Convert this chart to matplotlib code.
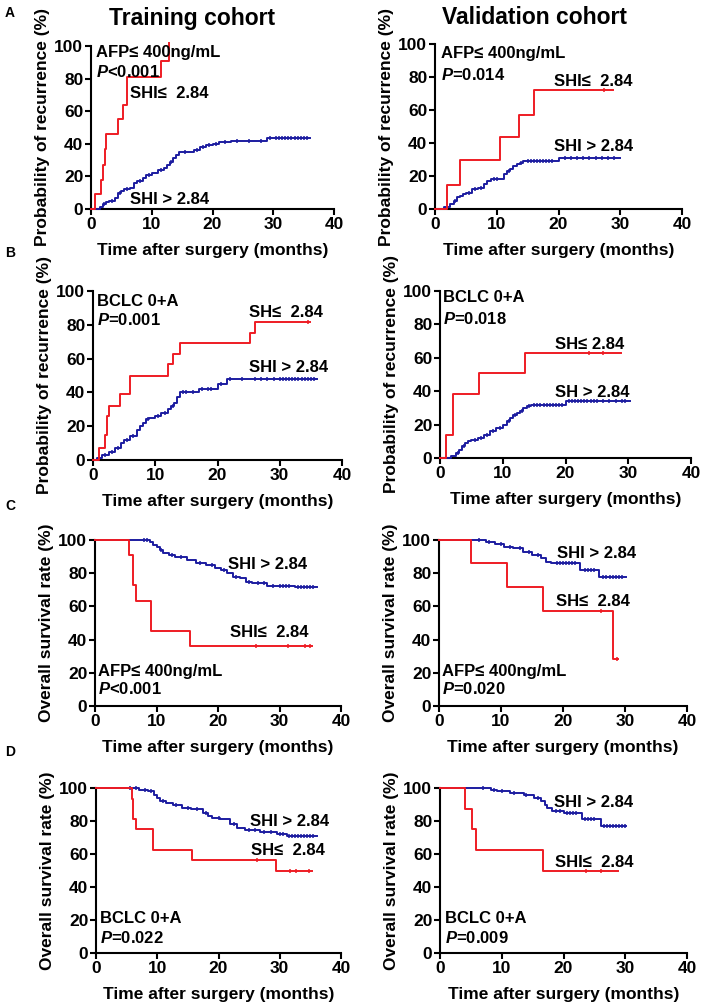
import numpy as np
import matplotlib
matplotlib.use("Agg")
import matplotlib.pyplot as plt

plt.rcParams['font.family'] = ['Liberation Sans', 'DejaVu Sans']
plt.rcParams['font.weight'] = 'bold'
plt.rcParams['mathtext.fontset'] = 'custom'
plt.rcParams['mathtext.it'] = 'Liberation Sans:italic:bold'
plt.rcParams['mathtext.rm'] = 'Liberation Sans:bold'

RED = '#ee1c24'
BLUE = '#1c1ca0'

# ---------------- data (months, %) ----------------
# A: recurrence, AFP<=400, training
a_tr_red_t = [0.7, 1.7, 2.0, 2.25, 2.5, 4.4, 5.3, 6.0, 11.6, 12.9]
a_tr_red_v = [9, 18, 27, 37, 46, 55, 64, 81, 91, 102]
a_tr_red_end = 12.9
a_tr_red_cens = []
a_tr_blue_t = [1.5, 2.0, 2.5, 3.0, 4.0, 4.5, 5.0, 5.5, 6.5, 7.0, 7.5, 8.5, 9.0, 10.0, 11.0, 12.0, 12.5,
               13.0, 13.5, 14.0, 14.5, 17.0, 18.0, 19.0, 20.0, 21.0, 23.0, 29.0]
a_tr_blue_v = [1, 3, 4, 5, 7, 10, 11, 12, 13, 16, 17, 19, 21, 22, 24, 25, 27, 29, 31, 33, 35, 36, 38, 39,
               40, 41, 42, 43.5]
a_tr_blue_end = 36.0
a_tr_blue_cens = [2.2, 3.5, 4.8, 6.0, 8.0, 9.5, 11.5, 13.2, 15.5, 17.5, 18.5, 19.5, 20.5, 22.0, 24.0,
                  26.0, 28.0, 29.5, 30.5, 31.0, 31.5, 32.0, 32.5, 33.0, 33.5, 34.0, 34.5, 35.0, 35.5]

# A: recurrence, AFP<=400, validation
a_va_red_t = [1.9, 4.1, 10.6, 13.6, 16.0]
a_va_red_v = [14.5, 29.5, 43.5, 57, 72]
a_va_red_end = 28.9
a_va_red_cens = [27.4]
a_va_blue_t = [1.5, 2.5, 3.0, 3.5, 4.0, 4.5, 5.0, 6.0, 7.0, 8.0, 8.5, 9.0, 11.2, 11.7, 12.2, 12.7, 13.2,
               13.7, 14.3, 20.0]
a_va_blue_v = [1, 3, 5, 7, 8, 9, 10, 12, 13, 15, 17, 18, 21, 23, 24, 26, 27, 28, 29, 31]
a_va_blue_end = 30.0
a_va_blue_cens = [3.2, 5.5, 6.5, 7.5, 9.5, 10.0, 12.0, 14.0, 15.0, 15.5, 16.0, 16.5, 17.0, 17.5, 18.0,
                  18.5, 19.0, 21.0, 22.0, 23.0, 24.0, 25.0, 26.0, 27.0, 28.0, 29.0]

# B: recurrence, BCLC 0+A, training
b_tr_red_t = [1.0, 1.9, 2.2, 2.5, 4.4, 6.0, 12.1, 12.9, 14.0, 25.2, 26.1]
b_tr_red_v = [7, 15, 26, 32, 39, 50, 57, 63, 69, 75, 81.5]
b_tr_red_end = 34.8
b_tr_red_cens = [34.6]
b_tr_blue_t = [0.7, 1.5, 2.5, 3.5, 4.5, 5.0, 6.0, 7.0, 7.5, 8.0, 8.5, 9.0, 10.0, 11.0, 12.0, 12.5, 13.0,
               13.5, 14.0, 17.0, 20.0, 21.5]
b_tr_blue_v = [1, 3, 5, 7, 10, 12, 14, 18, 20, 22, 24, 25, 26, 28, 30, 32, 34, 37, 40, 42, 45, 48]
b_tr_blue_end = 36.0
b_tr_blue_cens = [2.0, 3.0, 4.0, 5.5, 6.5, 8.8, 10.5, 11.5, 12.8, 14.5, 15.0, 16.0, 17.5, 18.5, 19.0,
                  20.5, 22.0, 24.0, 26.0, 27.0, 28.0, 29.0, 30.0, 30.5, 31.0, 31.5, 32.0, 32.5, 33.0,
                  33.5, 34.0, 34.5, 35.0, 35.5]

# B: recurrence, BCLC 0+A, validation
b_va_red_t = [0.96, 2.0, 6.2, 13.6]
b_va_red_v = [14, 38.5, 51, 63]
b_va_red_end = 28.9
b_va_red_cens = [23.8, 25.9]
b_va_blue_t = [1.8, 2.5, 3.0, 3.5, 4.0, 4.5, 5.0, 6.0, 7.0, 8.0, 9.0, 10.0, 10.7, 11.2, 11.7, 12.2, 12.8,
               13.3, 13.8, 14.5, 20.0]
b_va_blue_v = [1, 3, 5, 7, 9, 10, 11, 12, 14, 16, 18, 20, 22, 24, 26, 27, 28, 30, 31, 32, 34]
b_va_blue_end = 30.2
b_va_blue_cens = [2.8, 3.8, 5.5, 6.5, 7.5, 8.5, 9.5, 11.0, 12.0, 13.0, 14.2, 15.0, 15.5, 16.0, 16.5,
                  17.0, 17.5, 18.0, 18.5, 19.0, 19.5, 20.5, 21.0, 21.5, 22.0, 22.5, 23.0, 23.5, 24.0,
                  24.5, 25.0, 26.0, 27.0, 28.0, 29.0, 29.5]

# C: overall survival, AFP<=400, training
c_tr_red_t = [5.6, 6.1, 6.7, 9.1, 15.4]
c_tr_red_v = [90.8, 72.7, 63.5, 45.3, 36.3]
c_tr_red_end = 35.3
c_tr_red_cens = [26.1, 31.4, 34.1, 35.0]
c_tr_blue_t = [9.0, 9.5, 10.0, 10.5, 11.0, 12.0, 13.0, 15.0, 16.5, 18.0, 19.5, 20.5, 21.5, 22.5, 23.5,
               24.5, 25.5, 28.0, 32.5]
c_tr_blue_v = [98.5, 97, 96, 94, 92, 91, 90, 88, 86, 85, 83, 82, 80, 78, 77, 75, 74, 72.5, 71.5]
c_tr_blue_end = 36.1
c_tr_blue_cens = [7.9, 8.5, 10.7, 12.5, 14.0, 17.0, 19.0, 21.0, 23.0, 25.0, 26.5, 27.5, 29.0, 30.0,
                  30.5, 31.0, 31.5, 33.0, 33.5, 34.0, 34.5, 35.0, 35.5]

# C: overall survival, AFP<=400, validation
c_va_red_t = [5.2, 11.0, 16.7, 28.0]
c_va_red_v = [86, 71.5, 57, 28.5]
c_va_red_end = 28.9
c_va_red_cens = [26.1, 28.7]
c_va_blue_t = [7.5, 9.0, 10.5, 12.0, 13.5, 15.0, 16.5, 17.2, 18.0, 22.8, 25.8]
c_va_blue_v = [99, 97.5, 96, 95, 93, 91, 89, 87, 86, 82, 78]
c_va_blue_end = 30.2
c_va_blue_cens = [6.5, 8.0, 10.0, 11.5, 13.0, 14.5, 16.0, 19.0, 19.5, 20.0, 20.5, 21.0, 21.5, 22.0,
                  23.5, 24.0, 24.5, 25.0, 26.5, 27.0, 27.5, 28.0, 28.5, 29.0, 29.5]

# D: overall survival, BCLC 0+A, training
d_tr_red_t = [5.8, 6.1, 6.6, 9.3, 15.6, 29.4]
d_tr_red_v = [93.5, 81, 75, 62.5, 56.5, 49.5]
d_tr_red_end = 35.2
d_tr_red_cens = [26.3, 31.7, 32.6, 34.8]
d_tr_blue_t = [7.0, 8.5, 9.5, 10.0, 10.5, 11.5, 12.5, 14.0, 15.5, 17.5, 18.3, 19.0, 20.3, 21.8, 23.0,
               24.4, 26.8, 29.5, 31.2]
d_tr_blue_v = [99, 98, 96, 94, 92, 91, 90, 88, 87, 85, 83, 82, 81, 78, 76, 74.5, 73.5, 72, 71]
d_tr_blue_end = 36.0
d_tr_blue_cens = [5.5, 6.5, 8.0, 9.0, 11.0, 13.0, 15.0, 16.5, 18.0, 20.0, 22.5, 25.0, 26.0, 27.5,
                  28.5, 30.0, 30.5, 31.5, 32.0, 32.5, 33.0, 33.5, 34.0, 34.5, 35.0, 35.5]

# D: overall survival, BCLC 0+A, validation
d_va_red_t = [4.0, 5.2, 5.9, 16.7]
d_va_red_v = [87.5, 75, 62.5, 50]
d_va_red_end = 28.9
d_va_red_cens = [23.6, 26.0]
d_va_blue_t = [8.2, 9.3, 11.4, 13.6, 15.2, 16.3, 17.0, 17.4, 18.2, 20.1, 23.0, 26.0]
d_va_blue_v = [99, 98, 97, 96, 94, 92, 90, 88, 86, 85, 81, 77]
d_va_blue_end = 30.2
d_va_blue_cens = [7.0, 8.8, 10.0, 12.0, 14.0, 15.8, 18.8, 19.5, 20.5, 21.0, 21.5, 22.0, 23.5, 24.0,
                  24.5, 25.0, 26.5, 27.0, 27.5, 28.0, 28.5, 29.0, 29.5, 30.0]

x_ticks = [0, 10, 20, 30, 40]
y_ticks = [0, 20, 40, 60, 80, 100]

# ---------------- figure ----------------
W, H = 708, 1007
fig = plt.figure(figsize=(W / 100, H / 100), dpi=100)


def add_ax(l, r, t, b):
    return fig.add_axes([l / W, 1 - b / H, (r - l) / W, (b - t) / H])


def km(ax, t, v, end, cens, start, color):
    tt = np.concatenate([[0.0], t, [end]])
    vv = np.concatenate([[start], v, [v[-1]]])
    ax.step(tt, vv, where='post', color=color, lw=1.4, clip_on=False, zorder=3)
    if len(cens):
        c = np.asarray(cens)
        idx = np.searchsorted(np.asarray(t), c, side='right')
        vals = np.concatenate([[start], v])[idx]
        ax.plot(c, vals, ls='none', marker='|', ms=3.5, mew=1.1, color=color, clip_on=False, zorder=3)


def style(ax, ylabel):
    ax.set_xlim(0, 40)
    ax.set_ylim(0, 100)
    ax.set_xticks(x_ticks)
    ax.set_yticks(y_ticks)
    for s in ['top', 'right']:
        ax.spines[s].set_visible(False)
    for s in ['left', 'bottom']:
        ax.spines[s].set_linewidth(1.5)
    ax.tick_params(direction='out', length=4, width=1.5, labelsize=12.5, pad=1.5)
    for lab in ax.get_xticklabels() + ax.get_yticklabels():
        lab.set_fontweight('bold')
    ax.set_xlabel('Time after surgery (months)', fontsize=12.5, fontweight='bold', labelpad=8)
    ax.set_ylabel(ylabel, fontsize=12.5, fontweight='bold', labelpad=3)


def txt(ax, x, y, s, **kw):
    ax.text(x, y, s, fontsize=12, fontweight='bold', va='center', ha='left', zorder=4, **kw)


REC = 'Probability of recurrence (%)'
OS = 'Overall survival rate (%)'
P = r'$\mathit{P}$'

# A left
ax = add_ax(91, 334, 46, 209)
km(ax, a_tr_blue_t, a_tr_blue_v, a_tr_blue_end, a_tr_blue_cens, 0, BLUE)
km(ax, a_tr_red_t, a_tr_red_v, a_tr_red_end, a_tr_red_cens, 0, RED)
style(ax, REC)
txt(ax, 0.9, 96, 'AFP≤ 400ng/mL')
txt(ax, 0.9, 84, P + '<0.001')
txt(ax, 6.4, 71, 'SHI≤  2.84')
txt(ax, 6.4, 6, 'SHI > 2.84')

# A right
ax = add_ax(435, 682, 44, 209)
km(ax, a_va_blue_t, a_va_blue_v, a_va_blue_end, a_va_blue_cens, 0, BLUE)
km(ax, a_va_red_t, a_va_red_v, a_va_red_end, a_va_red_cens, 0, RED)
style(ax, REC)
txt(ax, 1.0, 94, 'AFP≤ 400ng/mL')
txt(ax, 1.0, 81, P + '=0.014')
txt(ax, 19.3, 77, 'SHI≤  2.84')
txt(ax, 19.3, 38, 'SHI > 2.84')

# B left
ax = add_ax(93, 342, 291, 460)
km(ax, b_tr_blue_t, b_tr_blue_v, b_tr_blue_end, b_tr_blue_cens, 0, BLUE)
km(ax, b_tr_red_t, b_tr_red_v, b_tr_red_end, b_tr_red_cens, 0, RED)
style(ax, REC)
txt(ax, 0.6, 94, 'BCLC 0+A')
txt(ax, 0.6, 83, P + '=0.001')
txt(ax, 25.0, 87, 'SH≤  2.84')
txt(ax, 25.0, 55, 'SHI > 2.84')

# B right
ax = add_ax(440, 691, 291, 458)
km(ax, b_va_blue_t, b_va_blue_v, b_va_blue_end, b_va_blue_cens, 0, BLUE)
km(ax, b_va_red_t, b_va_red_v, b_va_red_end, b_va_red_cens, 0, RED)
style(ax, REC)
txt(ax, 0.4, 96, 'BCLC 0+A')
txt(ax, 0.4, 83, P + '=0.018')
txt(ax, 18.4, 68, 'SH≤ 2.84')
txt(ax, 18.4, 39, 'SH > 2.84')

# C left
ax = add_ax(95, 341, 540, 706)
km(ax, c_tr_blue_t, c_tr_blue_v, c_tr_blue_end, c_tr_blue_cens, 100, BLUE)
km(ax, c_tr_red_t, c_tr_red_v, c_tr_red_end, c_tr_red_cens, 100, RED)
style(ax, OS)
txt(ax, 21.7, 85, 'SHI > 2.84')
txt(ax, 22.0, 44, 'SHI≤  2.84')
txt(ax, 0.5, 21, 'AFP≤ 400ng/mL')
txt(ax, 0.5, 10, P + '<0.001')

# C right
ax = add_ax(439, 687, 540, 706)
km(ax, c_va_blue_t, c_va_blue_v, c_va_blue_end, c_va_blue_cens, 100, BLUE)
km(ax, c_va_red_t, c_va_red_v, c_va_red_end, c_va_red_cens, 100, RED)
style(ax, OS)
txt(ax, 19.1, 92, 'SHI > 2.84')
txt(ax, 18.8, 63, 'SH≤  2.84')
txt(ax, 0.5, 21, 'AFP≤ 400ng/mL')
txt(ax, 0.5, 10, P + '=0.020')

# D left
ax = add_ax(96, 341, 788, 953)
km(ax, d_tr_blue_t, d_tr_blue_v, d_tr_blue_end, d_tr_blue_cens, 100, BLUE)
km(ax, d_tr_red_t, d_tr_red_v, d_tr_red_end, d_tr_red_cens, 100, RED)
style(ax, OS)
txt(ax, 25.2, 80, 'SHI > 2.84')
txt(ax, 25.3, 62, 'SH≤  2.84')
txt(ax, 0.65, 21, 'BCLC 0+A')
txt(ax, 0.65, 9, P + '=0.022')

# D right
ax = add_ax(440, 687, 788, 953)
km(ax, d_va_blue_t, d_va_blue_v, d_va_blue_end, d_va_blue_cens, 100, BLUE)
km(ax, d_va_red_t, d_va_red_v, d_va_red_end, d_va_red_cens, 100, RED)
style(ax, OS)
txt(ax, 18.4, 91.5, 'SHI > 2.84')
txt(ax, 18.7, 55, 'SHI≤  2.84')
txt(ax, 0.75, 21, 'BCLC 0+A')
txt(ax, 0.75, 9, P + '=0.009')

# titles and panel letters
fig.text(192 / W, 1 - 18 / H, 'Training cohort', fontsize=16.5, fontweight='bold', ha='center', va='center')
fig.text(535 / W, 1 - 18 / H, 'Validation cohort', fontsize=16.5, fontweight='bold', ha='center', va='center')
for letter, y in [('A', 13), ('B', 253), ('C', 506), ('D', 752)]:
    fig.text(10 / W, 1 - y / H, letter, fontsize=10, fontweight='bold', ha='center', va='center')

fig.savefig('out.png', dpi=100)
